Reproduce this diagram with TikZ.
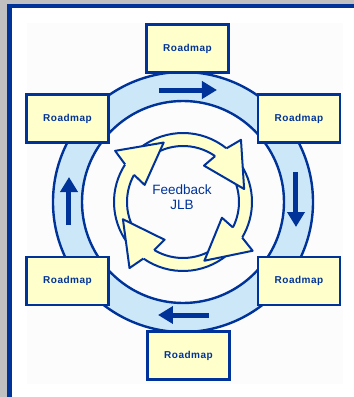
\documentclass[tikz,border=0pt]{standalone}
\usepackage{fontspec}
\setmainfont{Liberation Sans}
\newfontfamily\roadfont[LetterSpace=5]{Liberation Sans}
\usetikzlibrary{positioning,arrows.meta}
\definecolor{jlbblue}{RGB}{0,51,153}
\definecolor{bandblue}{RGB}{204,232,248}
\definecolor{paleyellow}{RGB}{255,255,204}
\definecolor{framegray}{RGB}{192,192,192}
\tikzset{
  roadbox/.style = {shape=rectangle, draw=jlbblue, line width=2.4pt,
                    fill=paleyellow, minimum width=82pt, minimum height=48pt,
                    inner sep=0pt, text=jlbblue,
                    font=\roadfont\fontsize{10}{12}\selectfont\bfseries},
  hubtext/.style = {align=center, text=jlbblue,
                    font=\fontsize{13.5}{15.5}\selectfont},
  flow/.style    = {draw=jlbblue, line width=5pt,
                    -{Triangle[length=15pt,width=17pt]}},
  cycline/.style = {draw=jlbblue, line width=2pt, line join=round}
}
\begin{document}
\begin{tikzpicture}[x=1pt,y=1pt]
  \useasboundingbox (-183,-195) rectangle (171,202);
  \clip (-183,-195) rectangle (171,202);
  \fill[framegray] (-183,-195) rectangle (171,202);
  \draw[jlbblue, line width=4.5pt, fill=white] (-173.3,196.2) rectangle (220,-240);
  \fill[black!1] (-156,179) rectangle (160,-182);

  % band round the hub
  \fill[bandblue, even odd rule] (0,0) circle (130) (0,0) circle (101);
  \draw[jlbblue, line width=2.4pt] (0,0) circle (130) (0,0) circle (101);

  % feedback arrows: shafts first, heads on top
  \foreach \t/\p in {108/196, 12/108, -70/12, -164/-70} {
    \fill[paleyellow] ({\t+39}:69) arc[start angle=\t+39, end angle=\p+20, radius=69]
      -- ({\p+20}:56) arc[start angle=\p+20, end angle=\t+43, radius=56] -- cycle;
    \draw[cycline] ({\t+39}:69) arc[start angle=\t+39, end angle=\p+20, radius=69]
      -- ({\p+20}:56) arc[start angle=\p+20, end angle=\t+43, radius=56];
  }
  \foreach \t in {108, 12, -70, -164} {
    \fill[paleyellow] ({\t+39}:69) -- ({\t+35}:85) -- (\t:62.5)
      -- ({\t+48}:42) -- ({\t+43}:56) -- cycle;
    \draw[cycline] ({\t+39}:69) -- ({\t+35}:85) -- (\t:62.5)
      -- ({\t+48}:42) -- ({\t+43}:56);
  }
  \node[hubtext] (hub) at (-1,5) {Feedback\\JLB};

  % arrows in the band
  \coordinate (topA) at (-24,112);
  \coordinate (topB) at (34,112);
  \coordinate (rightA) at (113,30);
  \coordinate (rightB) at (113,-25);
  \coordinate (botA) at (26,-113);
  \coordinate (botB) at (-25,-113);
  \coordinate (leftA) at (-114,-23);
  \coordinate (leftB) at (-114,25);
  \draw[flow] (topA) -- (topB);
  \draw[flow] (rightA) -- (rightB);
  \draw[flow] (botA) -- (botB);
  \draw[flow] (leftA) -- (leftB);

  % roadmap boxes
  \node[roadbox] (rmtop) at (4.5,153.5) {Roadmap};
  \node[roadbox] (rmne) at (116,83.5) {Roadmap};
  \node[roadbox] (rmse) at (116,-79) {Roadmap};
  \node[roadbox] (rmbot) at (5.5,-153.5) {Roadmap};
  \node[roadbox] (rmsw) at (-115.5,-79) {Roadmap};
  \node[roadbox] (rmnw) at (-115.5,83.5) {Roadmap};
\end{tikzpicture}
\end{document}
